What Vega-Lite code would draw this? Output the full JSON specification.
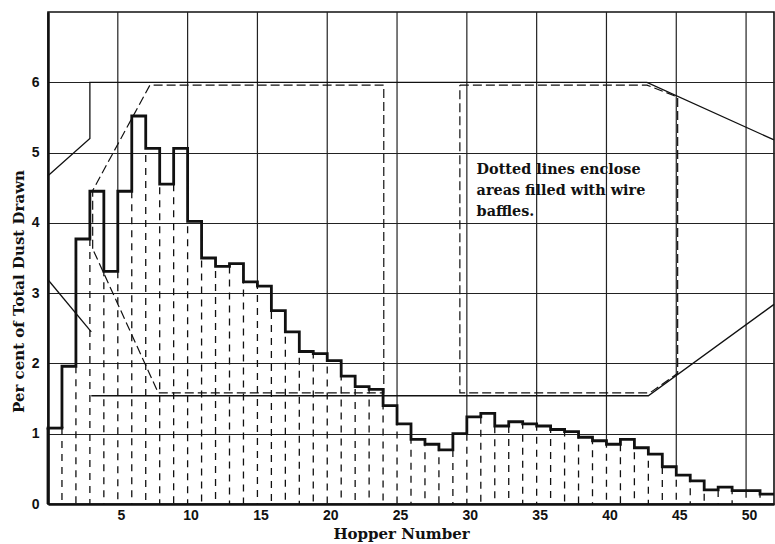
{
  "$schema": "https://vega.github.io/schema/vega-lite/v6.json",
  "width": 726,
  "height": 492,
  "autosize": "none",
  "padding": {"left": 48, "top": 12, "right": 1, "bottom": 40},
  "background": "white",
  "config": {
    "view": {"stroke": "#111", "strokeWidth": 1.6},
    "axis": {
      "domainColor": "#111",
      "domainWidth": 2.5,
      "ticks": false,
      "labelFont": "Liberation Sans",
      "labelFontWeight": "bold",
      "labelFontSize": 14,
      "labelColor": "#111",
      "titleFont": "DejaVu Serif",
      "titleFontWeight": "bold",
      "titleFontSize": 15,
      "titleColor": "#111",
      "gridColor": "#222",
      "gridWidth": 1.2,
      "gridOpacity": 1
    }
  },
  "datasets": {
    "hoppers": [
      {"hopper": 1, "pct": 1.08}, {"hopper": 2, "pct": 1.96}, {"hopper": 3, "pct": 3.77},
      {"hopper": 4, "pct": 4.45}, {"hopper": 5, "pct": 3.31}, {"hopper": 6, "pct": 4.45},
      {"hopper": 7, "pct": 5.52}, {"hopper": 8, "pct": 5.06}, {"hopper": 9, "pct": 4.55},
      {"hopper": 10, "pct": 5.06}, {"hopper": 11, "pct": 4.02}, {"hopper": 12, "pct": 3.5},
      {"hopper": 13, "pct": 3.38}, {"hopper": 14, "pct": 3.42}, {"hopper": 15, "pct": 3.16},
      {"hopper": 16, "pct": 3.1}, {"hopper": 17, "pct": 2.75}, {"hopper": 18, "pct": 2.45},
      {"hopper": 19, "pct": 2.17}, {"hopper": 20, "pct": 2.14}, {"hopper": 21, "pct": 2.04},
      {"hopper": 22, "pct": 1.82}, {"hopper": 23, "pct": 1.67}, {"hopper": 24, "pct": 1.63},
      {"hopper": 25, "pct": 1.4}, {"hopper": 26, "pct": 1.14}, {"hopper": 27, "pct": 0.92},
      {"hopper": 28, "pct": 0.85}, {"hopper": 29, "pct": 0.77}, {"hopper": 30, "pct": 1.0},
      {"hopper": 31, "pct": 1.24}, {"hopper": 32, "pct": 1.29}, {"hopper": 33, "pct": 1.11},
      {"hopper": 34, "pct": 1.17}, {"hopper": 35, "pct": 1.14}, {"hopper": 36, "pct": 1.11},
      {"hopper": 37, "pct": 1.06}, {"hopper": 38, "pct": 1.03}, {"hopper": 39, "pct": 0.95},
      {"hopper": 40, "pct": 0.9}, {"hopper": 41, "pct": 0.85}, {"hopper": 42, "pct": 0.92},
      {"hopper": 43, "pct": 0.8}, {"hopper": 44, "pct": 0.71}, {"hopper": 45, "pct": 0.53},
      {"hopper": 46, "pct": 0.41}, {"hopper": 47, "pct": 0.33}, {"hopper": 48, "pct": 0.2},
      {"hopper": 49, "pct": 0.24}, {"hopper": 50, "pct": 0.19}, {"hopper": 51, "pct": 0.19},
      {"hopper": 52, "pct": 0.14}
    ],
    "chamber": [
      {"part": "upper", "i": 1, "x": 0, "y": 4.67},
      {"part": "upper", "i": 2, "x": 3, "y": 5.2},
      {"part": "upper", "i": 3, "x": 3, "y": 6},
      {"part": "upper", "i": 4, "x": 42.9, "y": 6},
      {"part": "upper", "i": 5, "x": 52, "y": 5.18},
      {"part": "inlet", "i": 1, "x": 0, "y": 3.19},
      {"part": "inlet", "i": 2, "x": 3.1, "y": 2.45},
      {"part": "lower", "i": 1, "x": 3.1, "y": 1.54},
      {"part": "lower", "i": 2, "x": 43, "y": 1.54},
      {"part": "lower", "i": 3, "x": 52, "y": 2.84}
    ],
    "baffles": [
      {"area": "first", "i": 1, "x": 3.2, "y": 3.63},
      {"area": "first", "i": 2, "x": 3.2, "y": 4.46},
      {"area": "first", "i": 3, "x": 7.3, "y": 5.96},
      {"area": "first", "i": 4, "x": 24.05, "y": 5.96},
      {"area": "first", "i": 5, "x": 24.05, "y": 1.58},
      {"area": "first", "i": 6, "x": 7.9, "y": 1.58},
      {"area": "first", "i": 7, "x": 3.2, "y": 3.63},
      {"area": "second", "i": 1, "x": 29.5, "y": 5.96},
      {"area": "second", "i": 2, "x": 42.9, "y": 5.96},
      {"area": "second", "i": 3, "x": 45.1, "y": 5.79},
      {"area": "second", "i": 4, "x": 45.1, "y": 1.86},
      {"area": "second", "i": 5, "x": 43.1, "y": 1.58},
      {"area": "second", "i": 6, "x": 29.5, "y": 1.58},
      {"area": "second", "i": 7, "x": 29.5, "y": 5.96}
    ]
  },
  "layer": [
    {
      "data": {"name": "hoppers"},
      "transform": [{"filter": "datum.hopper % 5 == 0 && datum.hopper <= 50"}],
      "mark": {"type": "rule", "color": "#222", "strokeWidth": 1.2},
      "encoding": {
        "x": {
          "field": "hopper", "type": "quantitative",
          "scale": {"domain": [0, 52], "nice": false, "zero": false},
          "title": "Hopper Number",
          "axis": {
            "values": [5, 10, 15, 20, 25, 30, 35, 40, 45, 50],
            "format": "d",
            "grid": false,
            "labelOffset": 3,
            "labelPadding": 4,
            "titleX": 353,
            "titleY": 29,
            "titleBaseline": "middle",
            "titleAnchor": "start",
            "titleAlign": "center"
          }
        },
        "y": {
          "field": "pct", "type": "quantitative",
          "scale": {"domain": [0, 7], "nice": false},
          "title": "Per cent of Total Dust Drawn",
          "axis": {
            "values": [0, 1, 2, 3, 4, 5, 6],
            "format": "d",
            "grid": true,
            "labelPadding": 9,
            "titleX": -30,
            "titleY": 279,
            "titleBaseline": "middle",
            "titleAnchor": "start",
            "titleAlign": "center"
          }
        },
        "y2": {"datum": 7}
      }
    },
    {
      "data": {"name": "hoppers"},
      "transform": [{"filter": "datum.hopper < 52"}],
      "mark": {"type": "rule", "color": "#111", "strokeWidth": 1.3, "strokeDash": [7, 6]},
      "encoding": {
        "x": {"field": "hopper", "type": "quantitative", "title": "Hopper Number"},
        "y": {"field": "pct", "type": "quantitative", "title": "Per cent of Total Dust Drawn"},
        "y2": {"datum": 0}
      }
    },
    {
      "data": {"name": "chamber"},
      "mark": {"type": "line", "color": "#111", "strokeWidth": 1.3},
      "encoding": {
        "x": {"field": "x", "type": "quantitative", "title": "Hopper Number"},
        "y": {"field": "y", "type": "quantitative", "title": "Per cent of Total Dust Drawn"},
        "detail": {"field": "part"},
        "order": {"field": "i"}
      }
    },
    {
      "data": {"name": "baffles"},
      "mark": {"type": "line", "color": "#111", "strokeWidth": 1.2, "strokeDash": [9, 4]},
      "encoding": {
        "x": {"field": "x", "type": "quantitative", "title": "Hopper Number"},
        "y": {"field": "y", "type": "quantitative", "title": "Per cent of Total Dust Drawn"},
        "detail": {"field": "area"},
        "order": {"field": "i"}
      }
    },
    {
      "data": {"name": "hoppers"},
      "mark": {"type": "line", "interpolate": "step-before", "color": "#111", "strokeWidth": 2.8, "strokeJoin": "miter"},
      "encoding": {
        "x": {"field": "hopper", "type": "quantitative", "title": "Hopper Number"},
        "y": {"field": "pct", "type": "quantitative", "title": "Per cent of Total Dust Drawn"}
      }
    },
    {
      "data": {"name": "hoppers"},
      "transform": [{"filter": "datum.hopper == 1"}],
      "mark": {"type": "rule", "color": "#111", "strokeWidth": 2.8, "strokeCap": "square"},
      "encoding": {
        "x": {"field": "hopper", "type": "quantitative", "title": "Hopper Number"},
        "x2": {"datum": 0},
        "y": {"field": "pct", "type": "quantitative", "title": "Per cent of Total Dust Drawn"}
      }
    },
    {
      "data": {"name": "hoppers"},
      "transform": [{"filter": "datum.hopper == 1"}],
      "mark": {"type": "rule", "color": "#111", "strokeWidth": 2.8},
      "encoding": {
        "x": {"datum": 0, "type": "quantitative", "title": "Hopper Number"},
        "y": {"field": "pct", "type": "quantitative", "title": "Per cent of Total Dust Drawn"},
        "y2": {"datum": 0}
      }
    },
    {
      "data": {"name": "hoppers"},
      "transform": [{"filter": "datum.hopper == 1"}],
      "mark": {
        "type": "text",
        "text": ["Dotted lines enclose", "areas filled with wire", "baffles."],
        "align": "left",
        "baseline": "alphabetic",
        "font": "DejaVu Serif",
        "fontWeight": "bold",
        "fontSize": 14.4,
        "lineHeight": 21,
        "color": "#111"
      },
      "encoding": {
        "x": {"datum": 30.7, "type": "quantitative", "title": "Hopper Number"},
        "y": {"datum": 4.7, "type": "quantitative", "title": "Per cent of Total Dust Drawn"}
      }
    }
  ]
}
